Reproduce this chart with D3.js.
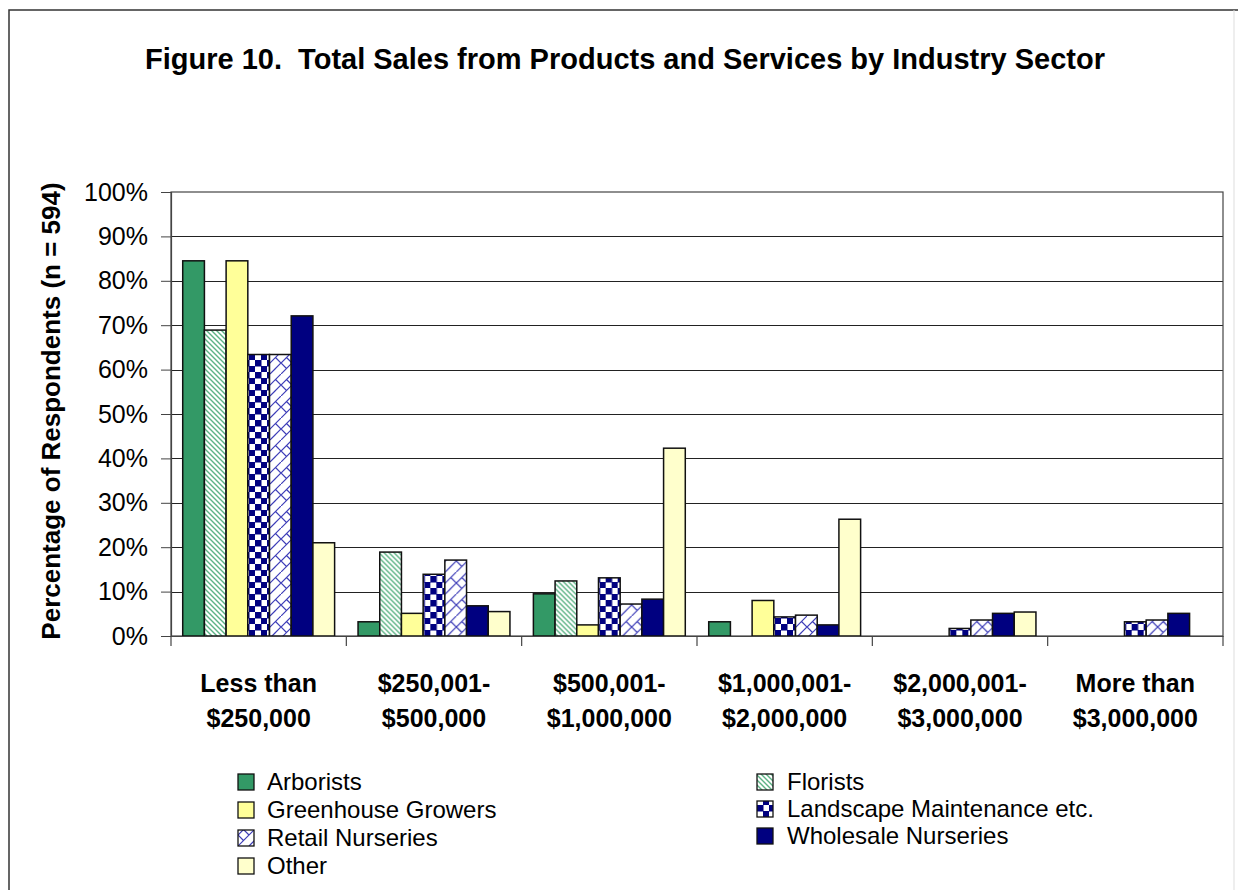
<!DOCTYPE html>
<html>
<head>
<meta charset="utf-8">
<script src="https://cdn.jsdelivr.net/npm/d3@7"></script>
<style>
  html, body { margin: 0; padding: 0; background: #fff; }
  svg { display: block; font-family: "Liberation Sans", Arial, sans-serif; }
</style>
</head>
<body>
<svg id="chart" width="1238" height="890"></svg>
<script>
const categories = [
  ["Less than", "$250,000"],
  ["$250,001-", "$500,000"],
  ["$500,001-", "$1,000,000"],
  ["$1,000,001-", "$2,000,000"],
  ["$2,000,001-", "$3,000,000"],
  ["More than", "$3,000,000"]
];
const seriesNames = ["Arborists", "Florists", "Greenhouse Growers", "Landscape Maintenance etc.",
  "Retail Nurseries", "Wholesale Nurseries", "Other"];

// percent of respondents, one array per sector, one value per sales bracket
const arborists   = [84.5,  3.2,  9.5,  3.2, 0,   0];
const florists    = [68.9, 18.9, 12.4,  0,   0,   0];
const greenhouse  = [84.5,  5.1,  2.5,  8.0, 0,   0];
const landscape   = [63.4, 13.9, 13.1,  4.3, 1.7, 3.2];
const retail      = [63.4, 17.1,  7.2,  4.7, 3.6, 3.6];
const wholesale   = [72.1,  6.8,  8.3,  2.5, 5.1, 5.1];
const other       = [21.0,  5.5, 42.3, 26.3, 5.4, 0];
const seriesValues = [arborists, florists, greenhouse, landscape, retail, wholesale, other];

const yTicks = [0, 10, 20, 30, 40, 50, 60, 70, 80, 90, 100];

const fills = ["#339966", "url(#pFlorist)", "#ffff99", "url(#pCheck)",
  "url(#pBrick)", "#000080", "#ffffcc"];

const svg = d3.select("#chart");
const W = 1238, H = 890;
const plot = { left: 171, right: 1223, top: 192, bottom: 636 };

// patterns
const defs = svg.append("defs");
const pf = defs.append("pattern").attr("id", "pFlorist")
  .attr("patternUnits", "userSpaceOnUse").attr("width", 5).attr("height", 5);
pf.append("rect").attr("width", 5).attr("height", 5).attr("fill", "#fff");
pf.append("path").attr("d", "M-1,-1L6,6M-1,4L1,6M4,-1L6,1")
  .attr("stroke", "#5cb385").attr("stroke-width", 1.4);

const pc = defs.append("pattern").attr("id", "pCheck")
  .attr("patternUnits", "userSpaceOnUse").attr("width", 12).attr("height", 12);
pc.append("rect").attr("width", 12).attr("height", 12).attr("fill", "#fff");
pc.append("rect").attr("width", 6.5).attr("height", 6.5).attr("fill", "#000080");
pc.append("rect").attr("x", 6).attr("y", 6).attr("width", 6).attr("height", 6).attr("fill", "#000080");

// diagonal brick
const pb = defs.append("pattern").attr("id", "pBrick")
  .attr("patternUnits", "userSpaceOnUse").attr("width", 22).attr("height", 22);
pb.append("rect").attr("width", 22).attr("height", 22).attr("fill", "#fff");
pb.append("path")
  .attr("d", "M0,11L11,0M0,22L22,0M11,22L22,11M5.5,5.5L11,11M16.5,5.5L22,11M0,11L5.5,16.5M11,22L16.5,16.5")
  .attr("stroke", "#3d3db8").attr("stroke-width", 1.2).attr("fill", "none");

// outer frame
svg.append("path").attr("d", `M9,${H}V10H${W}`)
  .attr("fill", "none").attr("stroke", "#333").attr("stroke-width", 1.5);
svg.append("line").attr("x1", 1234).attr("x2", 1234).attr("y1", 10).attr("y2", H)
  .attr("stroke", "#ddd");

// title
svg.append("text")
  .attr("x", 625).attr("y", 69)
  .attr("text-anchor", "middle")
  .attr("font-size", 29).attr("font-weight", "bold")
  .attr("fill", "#000")
  .style("white-space", "pre")
  .text("Figure 10.  Total Sales from Products and Services by Industry Sector");

const y = d3.scaleLinear().domain([0, 100]).range([plot.bottom, plot.top]);
const x0 = d3.scaleBand().domain(d3.range(categories.length))
  .range([plot.left, plot.right]).paddingInner(0).paddingOuter(0);
const x1 = d3.scaleBand().domain(d3.range(seriesNames.length))
  .range([0, x0.bandwidth()]).paddingInner(0).paddingOuter(0.54);

// gridlines
svg.append("g")
  .selectAll("line")
  .data(yTicks.filter(t => t > 0 && t < 100))
  .join("line")
    .attr("x1", plot.left).attr("x2", plot.right)
    .attr("y1", d => Math.round(y(d)) + 0.5).attr("y2", d => Math.round(y(d)) + 0.5)
    .attr("stroke", "#222").attr("stroke-width", 1);

// plot border
svg.append("rect")
  .attr("x", plot.left).attr("y", plot.top)
  .attr("width", plot.right - plot.left).attr("height", plot.bottom - plot.top)
  .attr("fill", "none").attr("stroke", "#444").attr("stroke-width", 1.2);

// bars
const groups = svg.append("g").selectAll("g")
  .data(categories.map((c, i) => i))
  .join("g")
    .attr("transform", i => `translate(${x0(i)},0)`);

groups.selectAll("rect")
  .data(i => seriesValues.map((vals, s) => ({ s, v: vals[i] })).filter(d => d.v > 0))
  .join("rect")
    .attr("x", d => x1(d.s))
    .attr("y", d => y(d.v))
    .attr("width", x1.bandwidth())
    .attr("height", d => y(0) - y(d.v))
    .attr("fill", d => fills[d.s])
    .attr("stroke", "#111")
    .attr("stroke-width", 1.5);

// y axis
svg.append("g")
  .attr("transform", `translate(${plot.left},0)`)
  .call(d3.axisLeft(y).tickValues(yTicks).tickFormat(d => d + "%").tickSize(10).tickPadding(13))
  .call(ax => ax.select(".domain").attr("stroke", "#444").attr("stroke-width", 1.2))
  .call(ax => ax.selectAll(".tick line").attr("stroke", "#444"))
  .call(ax => ax.selectAll("text")
    .attr("font-size", 25).attr("fill", "#000")
    .attr("font-family", "'Liberation Sans', Arial, sans-serif"));

// x axis
svg.append("g")
  .attr("transform", `translate(0,${plot.bottom})`)
  .call(d3.axisBottom(x0).tickValues([]).tickSizeOuter(0))
  .call(ax => ax.select(".domain").attr("stroke", "#444").attr("stroke-width", 1.2));

svg.append("g").selectAll("line")
  .data(d3.range(categories.length + 1))
  .join("line")
    .attr("x1", i => plot.left + i * x0.step()).attr("x2", i => plot.left + i * x0.step())
    .attr("y1", plot.bottom).attr("y2", plot.bottom + 10)
    .attr("stroke", "#444").attr("stroke-width", 1.2);

const xl = svg.append("g").selectAll("text")
  .data(categories)
  .join("text")
    .attr("x", (d, i) => x0(i) + x0.bandwidth() / 2)
    .attr("y", 692)
    .attr("text-anchor", "middle")
    .attr("font-size", 25).attr("font-weight", "bold");
xl.append("tspan").text(d => d[0]);
xl.append("tspan")
  .attr("x", (d, i) => x0(i) + x0.bandwidth() / 2)
  .attr("dy", 35)
  .text(d => d[1]);

// y axis title
svg.append("text")
  .attr("transform", `translate(60,${(plot.top + plot.bottom) / 2 - 3}) rotate(-90)`)
  .attr("text-anchor", "middle")
  .attr("font-size", 26).attr("font-weight", "bold")
  .text("Percentage of Respondents (n = 594)");

// legend
const legendPos = [
  [238, 790], [757, 790],
  [238, 818], [757, 817],
  [238, 846], [757, 844],
  [238, 874]
];
const legend = svg.append("g").selectAll("g")
  .data(seriesNames)
  .join("g")
    .attr("transform", (d, i) => `translate(${legendPos[i][0]},${legendPos[i][1]})`);
legend.append("rect")
  .attr("x", 0).attr("y", -16)
  .attr("width", 16).attr("height", 16)
  .attr("fill", (d, i) => fills[i])
  .attr("stroke", "#111").attr("stroke-width", 1.3);
legend.append("text")
  .attr("x", (d, i) => i % 2 === 0 ? 29 : 30)
  .attr("y", 0)
  .attr("font-size", 24)
  .text(d => d);
</script>
</body>
</html>
